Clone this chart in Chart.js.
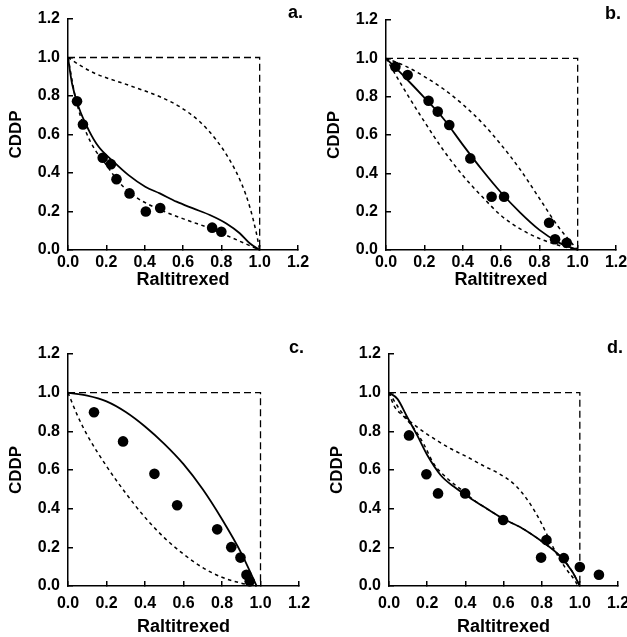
<!DOCTYPE html>
<html>
<head>
<meta charset="utf-8">
<script src="https://cdn.jsdelivr.net/npm/chart.js@4"></script>
<style>
  html, body { margin: 0; padding: 0; background: #fff; overflow: hidden; }
  body { width: 627px; height: 637px; position: relative; }
  canvas { position: absolute; }
</style>
</head>
<body>
<canvas id="panelA"></canvas>
<canvas id="panelB"></canvas>
<canvas id="panelC"></canvas>
<canvas id="panelD"></canvas>
<script>
const tickValues = [0, 0.2, 0.4, 0.6, 0.8, 1.0, 1.2];
const panelLetters = ["a.", "b.", "c.", "d."];
const xTitle = "Raltitrexed";
const yTitle = "CDDP";

// additivity box
const boxLine = [[0, 1], [1, 1], [1, 0]];

// a.
const aDots = [[0.047, 0.773], [0.078, 0.652], [0.181, 0.479], [0.224, 0.446], [0.253, 0.368],
  [0.321, 0.294], [0.406, 0.2], [0.481, 0.218], [0.752, 0.116], [0.8, 0.095]];
const aFit = [[0, 1], [0.021, 0.865], [0.055, 0.744], [0.108, 0.623], [0.16, 0.536], [0.229, 0.467],
  [0.316, 0.389], [0.403, 0.329], [0.479, 0.294], [0.566, 0.251], [0.653, 0.216], [0.74, 0.182],
  [0.826, 0.138], [0.896, 0.087], [0.948, 0.035], [1, 0]];
const aUpper = [[0, 1], [0.07, 0.955], [0.142, 0.917], [0.316, 0.856], [0.48, 0.796], [0.583, 0.744],
  [0.688, 0.666], [0.774, 0.571], [0.844, 0.467], [0.905, 0.346], [0.948, 0.225], [0.983, 0.087], [1, 0]];
const aLower = [[0, 1], [0.038, 0.796], [0.09, 0.623], [0.142, 0.519], [0.194, 0.45], [0.264, 0.355],
  [0.351, 0.277], [0.479, 0.21], [0.618, 0.156], [0.74, 0.113], [0.861, 0.061], [1, 0]];

// b.
const bDots = [[0.049, 0.956], [0.113, 0.913], [0.222, 0.779], [0.27, 0.722], [0.33, 0.652],
  [0.44, 0.478], [0.551, 0.278], [0.616, 0.278], [0.851, 0.142], [0.882, 0.056], [0.943, 0.038]];
const bFit = [[0, 1], [0.1, 0.9], [0.2, 0.795], [0.3, 0.685], [0.4, 0.55], [0.5, 0.42], [0.6, 0.3],
  [0.7, 0.195], [0.8, 0.105], [0.9, 0.04], [1, 0]];
const bUpper = [[0, 1], [0.1, 0.96], [0.2, 0.905], [0.3, 0.84], [0.4, 0.76], [0.5, 0.665], [0.6, 0.55],
  [0.7, 0.42], [0.8, 0.27], [0.9, 0.12], [1, 0]];
const bLower = [[0, 1], [0.1, 0.83], [0.2, 0.67], [0.3, 0.52], [0.4, 0.39], [0.5, 0.28], [0.6, 0.18],
  [0.7, 0.11], [0.8, 0.06], [0.9, 0.025], [1, 0]];

// c.
const cDots = [[0.135, 0.899], [0.286, 0.748], [0.449, 0.58], [0.567, 0.418], [0.775, 0.293],
  [0.848, 0.201], [0.896, 0.147], [0.927, 0.058], [0.944, 0.024]];
const cFit = [[0, 1], [0.1, 0.985], [0.2, 0.955], [0.3, 0.9], [0.4, 0.825], [0.5, 0.735], [0.6, 0.63],
  [0.7, 0.5], [0.8, 0.345], [0.9, 0.17], [0.98, 0]];
const cLower = [[0, 1], [0.05, 0.88], [0.1, 0.78], [0.2, 0.62], [0.3, 0.48], [0.4, 0.355], [0.5, 0.25],
  [0.6, 0.165], [0.7, 0.095], [0.8, 0.045], [0.9, 0.015], [0.98, 0]];

// d.
const dDots = [[0.105, 0.779], [0.196, 0.578], [0.257, 0.479], [0.399, 0.479], [0.598, 0.341],
  [0.797, 0.147], [0.825, 0.238], [0.916, 0.144], [1.0, 0.098], [1.1, 0.058]];
const dFit = [[0, 1], [0.044, 0.968], [0.096, 0.873], [0.148, 0.779], [0.201, 0.676], [0.271, 0.573],
  [0.341, 0.513], [0.428, 0.453], [0.524, 0.393], [0.593, 0.35], [0.697, 0.299], [0.802, 0.23],
  [0.89, 0.161], [0.96, 0.075], [1, 0]];
const dUpper = [[0, 1], [0.079, 0.882], [0.148, 0.822], [0.236, 0.762], [0.324, 0.71], [0.411, 0.667],
  [0.498, 0.62], [0.575, 0.582], [0.662, 0.521], [0.733, 0.435], [0.785, 0.35], [0.829, 0.264],
  [0.872, 0.178], [0.925, 0.093], [0.977, 0.024], [0.99, 0]];
const dLower = [[0, 1], [0.026, 0.933], [0.079, 0.875], [0.131, 0.815], [0.184, 0.73], [0.236, 0.63],
  [0.306, 0.556], [0.393, 0.487], [0.45, 0.44], [0.524, 0.393], [0.593, 0.35], [0.697, 0.299],
  [0.802, 0.23], [0.89, 0.161], [0.96, 0.075], [1, 0]];

const panels = [
  { id: "panelA", dots: aDots, fit: aFit, dashed: [aUpper, aLower] },
  { id: "panelB", dots: bDots, fit: bFit, dashed: [bUpper, bLower] },
  { id: "panelC", dots: cDots, fit: cFit, dashed: [cLower] },
  { id: "panelD", dots: dDots, fit: dFit, dashed: [dUpper, dLower] },
];

// plot area of each panel on the page (left, top, width, height),
// plus padding of x tick labels and x title
const areas = [
  [68, 19, 230, 231, 8, 14],
  [386, 20, 230, 230, 8, 14],
  [68, 354, 231, 232, 13, 3],
  [389, 354, 229, 232, 13, 3],
];

const AXIS_W = 70, AXIS_H = 55, PAD_TOP = 25, PAD_RIGHT = 34;
const FONT = "'Liberation Sans', Arial, Helvetica, sans-serif";

const toXY = (pts) => pts.map(([x, y]) => ({ x, y }));

const panelLabel = {
  id: "panelLabel",
  afterDraw(chart, args, opts) {
    const { ctx, chartArea } = chart;
    ctx.save();
    ctx.fillStyle = "#000";
    ctx.font = "bold 18px " + FONT;
    ctx.textAlign = "right";
    ctx.textBaseline = "alphabetic";
    ctx.fillText(opts.text, chartArea.right + 5, chartArea.top - 1);
    ctx.restore();
  },
};

function axisOptions(title, isX, tickPad, titlePad) {
  return {
    type: "linear",
    min: 0,
    max: 1.2,
    afterBuildTicks: (scale) => {
      scale.ticks = tickValues.map((v) => ({ value: v }));
    },
    afterFit: (scale) => {
      if (isX) scale.height = AXIS_H;
      else scale.width = AXIS_W;
    },
    border: { color: "#000", width: 1.5 },
    grid: { drawOnChartArea: false, color: "#000", lineWidth: 1.5, tickLength: -5 },
    ticks: {
      color: "#000",
      padding: tickPad,
      font: { family: FONT, size: 16, weight: "bold" },
      callback: (v) => Number(v).toFixed(1),
    },
    title: {
      display: true,
      text: title,
      color: "#000",
      font: { family: FONT, size: isX ? 18 : 17, weight: "bold" },
      padding: isX ? { top: 0, bottom: titlePad } : { top: 8, bottom: 0 },
    },
  };
}

panels.forEach((p, i) => {
  const [left, top, w, h, xTickPad, xTitlePad] = areas[i];
  const canvas = document.getElementById(p.id);
  canvas.width = w + AXIS_W + PAD_RIGHT;
  canvas.height = h + PAD_TOP + AXIS_H;
  canvas.style.left = left - AXIS_W + "px";
  canvas.style.top = top - PAD_TOP + "px";

  const datasets = [
    {
      data: toXY(p.dots),
      showLine: false,
      pointRadius: 5.3,
      pointBackgroundColor: "#000",
      pointBorderWidth: 0,
    },
    {
      data: toXY(p.fit),
      showLine: true,
      borderColor: "#000",
      borderWidth: 1.8,
      pointRadius: 0,
      cubicInterpolationMode: "monotone",
    },
  ];
  p.dashed.forEach((curve) => {
    datasets.push({
      data: toXY(curve),
      showLine: true,
      borderColor: "#000",
      borderWidth: 1.5,
      borderDash: [3.5, 3.5],
      pointRadius: 0,
      cubicInterpolationMode: "monotone",
    });
  });
  datasets.push({
    data: toXY(boxLine),
    showLine: true,
    borderColor: "#000",
    borderWidth: 1.3,
    borderDash: [7, 4],
    pointRadius: 0,
    tension: 0,
  });

  new Chart(canvas, {
    type: "scatter",
    data: { datasets },
    options: {
      responsive: false,
      animation: false,
      devicePixelRatio: 1,
      clip: false,
      layout: { padding: { top: PAD_TOP, right: PAD_RIGHT, left: 0, bottom: 0 } },
      plugins: {
        legend: { display: false },
        tooltip: { enabled: false },
        panelLabel: { text: panelLetters[i] },
      },
      scales: {
        x: axisOptions(xTitle, true, xTickPad, xTitlePad),
        y: axisOptions(yTitle, false, 13, 0),
      },
    },
    plugins: [panelLabel],
  });
});
</script>
</body>
</html>
